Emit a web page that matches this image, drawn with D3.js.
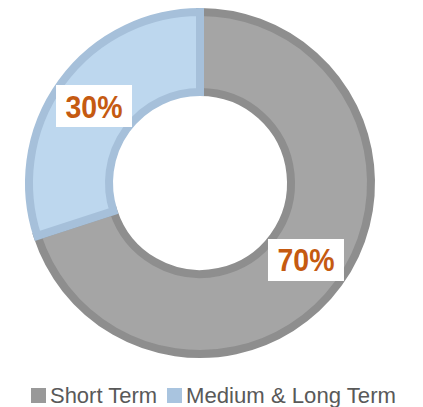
<!DOCTYPE html>
<html>
<head>
<meta charset="utf-8">
<script src="https://cdn.jsdelivr.net/npm/d3@7"></script>
<style>
  body { margin: 0; background: #fff; }
  svg { display: block; }
</style>
</head>
<body>
<svg id="chart" width="423" height="407"></svg>
<script>
const categories = ["Short Term", "Medium & Long Term"];
const values = [70, 30];
const labels = ["70%", "30%"];

const fills = ["#a5a5a5", "#bdd7ee"];
const strokes = ["#8e8e8e", "#a6c0da"];
const swatches = ["#999999", "#a9c4df"];

const svg = d3.select("#chart");
const cx = 200, cy = 183;

const pie = d3.pie().sort(null).value(d => d)(values);
const arc = d3.arc().innerRadius(91).outerRadius(171);
const labelArc = d3.arc().innerRadius(131).outerRadius(131);

const g = svg.append("g").attr("transform", `translate(${cx},${cy})`);

g.selectAll("path")
  .data(pie)
  .enter().append("path")
  .attr("d", arc)
  .attr("fill", (d, i) => fills[i])
  .attr("stroke", (d, i) => strokes[i])
  .attr("stroke-width", 8)
  .attr("stroke-linejoin", "miter");

const lab = g.selectAll("g.lab")
  .data(pie)
  .enter().append("g")
  .attr("class", "lab")
  .attr("transform", d => `translate(${labelArc.centroid(d)})`);

lab.append("rect")
  .attr("x", -38).attr("y", -21)
  .attr("width", 76).attr("height", 42)
  .attr("fill", "#fff");

lab.append("text")
  .attr("text-anchor", "middle")
  .attr("y", 11.5)
  .attr("font-family", "Liberation Sans, Arial, sans-serif")
  .attr("font-weight", "bold")
  .attr("font-size", 32)
  .attr("textLength", 57)
  .attr("lengthAdjust", "spacingAndGlyphs")
  .attr("fill", "#c55a11")
  .text((d, i) => labels[i]);

// legend
const legendX = [31, 167];
const legendW = [107, 210];
const leg = svg.selectAll("g.leg")
  .data(categories)
  .enter().append("g")
  .attr("class", "leg")
  .attr("transform", (d, i) => `translate(${legendX[i]},388)`);

leg.append("rect")
  .attr("width", 15).attr("height", 15)
  .attr("fill", (d, i) => swatches[i]);

leg.append("text")
  .attr("x", 19)
  .attr("y", 15)
  .attr("font-family", "Liberation Sans, Arial, sans-serif")
  .attr("font-size", 21.5)
  .attr("fill", "#595959")
  .attr("textLength", (d, i) => legendW[i])
  .attr("lengthAdjust", "spacingAndGlyphs")
  .text(d => d);
</script>
</body>
</html>
